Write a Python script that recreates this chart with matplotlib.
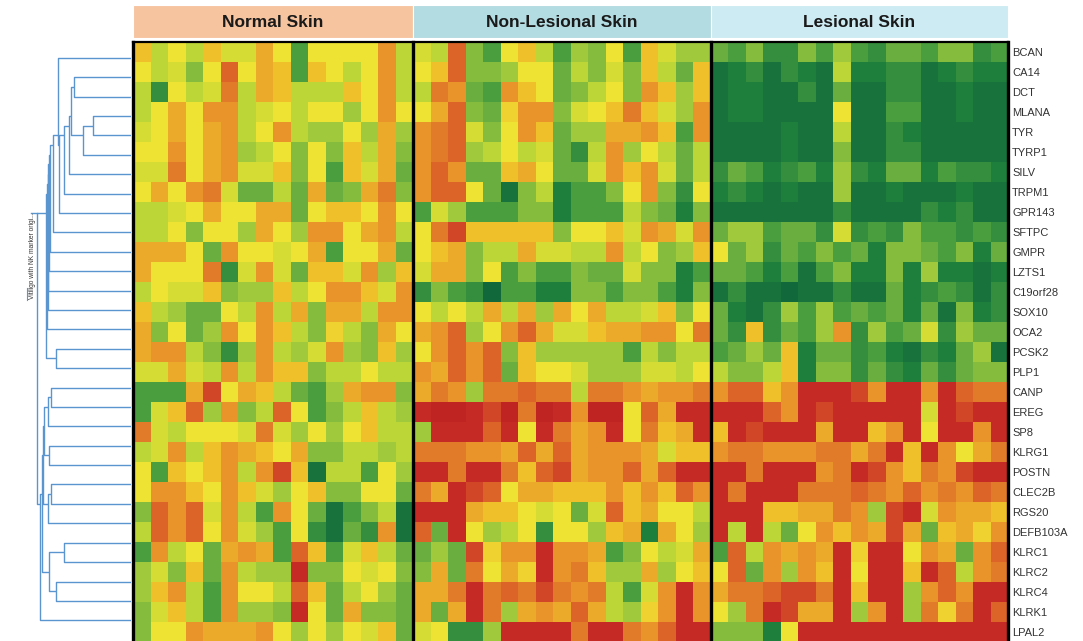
import numpy as np
import matplotlib.pyplot as plt
from matplotlib.colors import LinearSegmentedColormap
from matplotlib.patches import Rectangle

genes = ['BCAN', 'CA14', 'DCT', 'MLANA', 'TYR', 'TYRP1', 'SILV', 'TRPM1', 'GPR143',
         'SFTPC', 'GMPR', 'LZTS1', 'C19orf28', 'SOX10', 'OCA2', 'PCSK2', 'PLP1', 'CANP',
         'EREG', 'SP8', 'KLRG1', 'POSTN', 'CLEC2B', 'RGS20', 'DEFB103A', 'KLRC1', 'KLRC2',
         'KLRC4', 'KLRK1', 'LPAL2']

groups = ['Normal Skin', 'Non-Lesional Skin', 'Lesional Skin']
group_colors = ['#f7c4a0', '#b3dce2', '#cdebf3']

# expression levels, 0 = dark green ... 10 = deep red
normal = [
    [6, 4, 5, 4, 6, 4.5, 4.5, 6.5, 5, 2, 5, 5, 5, 5, 7, 4],
    [5, 4, 4.5, 3, 5, 8, 5, 6.5, 6, 2, 6, 5, 4, 5, 7, 4],
    [4, 1.5, 5, 4, 4.5, 7.5, 4, 6.5, 6, 4, 4, 4, 6, 5, 7, 4],
    [4, 5, 6.5, 5, 7, 7, 4, 4.5, 5, 4, 5, 5, 3.5, 5, 7, 5],
    [4.5, 5, 6.5, 5, 6.5, 7, 4, 5, 7, 4, 3.5, 3.5, 5, 3.5, 6.5, 3.5],
    [5, 5, 7, 5, 6.5, 7, 3.5, 4, 5, 3, 5, 3, 6, 4, 6.5, 3],
    [4.5, 4.5, 7.5, 5, 6.5, 7, 4.5, 4.5, 6, 3, 5, 2, 6, 4.5, 6.5, 2.5],
    [5, 6.5, 5, 7, 7.5, 4.5, 2.5, 2.5, 4, 2.5, 6.5, 2.5, 3, 6.5, 7.5, 3],
    [4, 4, 4.5, 5, 6.5, 5, 5, 6.5, 6.5, 2.5, 5, 6, 6, 5, 7, 5],
    [4, 4, 5, 3, 5, 5, 3.5, 6.5, 5, 3.5, 7, 7, 5, 6.5, 7, 4],
    [6.5, 6.5, 6.5, 5, 2.5, 7, 5, 5, 4.5, 5, 6.5, 2, 5, 5, 6.5, 2.5],
    [6.5, 5, 5, 5, 7.5, 1.5, 4.5, 7, 4.5, 2.5, 6, 6, 4.5, 7, 3.5, 6],
    [4, 5, 4.5, 4.5, 6, 3, 3.5, 3.5, 6, 4, 5, 7, 7, 6, 4.5, 7],
    [6, 4, 3.5, 2.5, 2.5, 5, 4, 7, 4, 6.5, 3, 6.5, 6.5, 4, 7, 7],
    [6.5, 3, 5, 2.5, 3.5, 7, 5, 7, 6, 4, 3, 5.5, 4, 3, 6.5, 5],
    [6.5, 7, 7, 4, 3, 1.5, 3.5, 7, 4, 3.5, 4.5, 7, 3.5, 3, 6, 3.5],
    [4.5, 4.5, 6.5, 4.5, 4, 7, 4, 7, 6, 6, 3, 4, 4, 5, 4, 4],
    [2, 2, 2, 6.5, 8.5, 5, 6.5, 6, 4, 2.5, 2, 3.5, 6.5, 7, 7, 3],
    [2, 4.5, 6, 8, 3.5, 7, 3, 4, 8, 5, 2, 3, 4, 6, 4, 3.5],
    [7.5, 4.5, 4, 5, 5, 5, 4.5, 7.5, 4.5, 3.5, 5, 3.5, 5, 6, 4, 4],
    [4, 4.5, 7, 4, 6, 7, 6.5, 6, 5, 6.5, 3, 3, 4, 4, 3.5, 4],
    [5, 2, 6, 5, 6, 7, 4, 7, 8.5, 6, 0.5, 4, 4, 2, 5, 3.5],
    [5, 7, 7, 6, 5, 7, 6, 4.5, 3.5, 5, 6, 3, 3, 5, 5, 2.5],
    [3, 8, 7, 8, 4.5, 7, 4, 2, 7, 5, 2.5, 0.5, 2, 3, 4, 0.5],
    [4, 8, 7, 8, 5, 7, 4.5, 3.5, 2, 5, 1.5, 0.5, 2.5, 1.5, 7, 0.5],
    [2, 7, 4, 5, 2.5, 6.5, 7, 6.5, 2, 8, 6, 2, 4.5, 6, 4, 2.5],
    [3.5, 4.5, 3, 6, 2.5, 7, 4, 3.5, 3.5, 9, 3, 3, 5, 4.5, 5, 3],
    [3.5, 6, 7, 4, 2, 7, 5, 5, 4, 8, 6, 2.5, 4, 5, 3.5, 2.5],
    [3, 4.5, 6, 4, 2, 7, 3.5, 3.5, 3, 9, 5, 2.5, 6.5, 3, 3, 2.5],
    [3, 5, 5, 7, 6.5, 6.5, 6.5, 7, 5, 3.5, 5, 3.5, 5, 4.5, 6, 2.5],
]

nonlesional = [
    [4.5, 4, 8, 3, 2, 5, 6, 4, 2, 3.5, 3, 5, 2, 6, 4.5, 3.5, 3.5],
    [5, 6, 8, 3, 3, 3.5, 5, 5, 2.5, 4, 3, 4.5, 3, 6, 4, 2.5, 6],
    [4, 7.5, 7, 2.5, 2, 7, 6, 5, 2.5, 3, 4, 5, 3, 7, 6, 3.5, 6],
    [5, 6.5, 8, 3, 2.5, 5.5, 7, 7, 3, 4.5, 5, 6, 7.5, 6, 4.5, 3.5, 7],
    [7, 7.5, 8, 4.5, 3, 5, 7, 6, 2.5, 3.5, 3.5, 6.5, 6.5, 7, 6, 2, 7],
    [7, 7.5, 8, 3.5, 4, 5, 4, 4.5, 2.5, 1.5, 4, 7, 3.5, 5, 4, 2.5, 4],
    [7, 8, 7, 2.5, 2.5, 6, 6.5, 5, 2.5, 2.5, 4.5, 7, 6, 7, 4.5, 2.5, 4],
    [7, 8, 8, 5, 2.5, 0.5, 3, 4, 1, 2, 2, 3, 5, 7, 3, 1.5, 5],
    [2, 4.5, 3.5, 2, 2, 2, 3, 3, 1, 2, 2, 2, 4, 3, 2.5, 1, 3],
    [5, 7.5, 8.5, 6, 6, 6, 6, 6, 3, 5, 5, 6, 4.5, 7, 6.5, 4.5, 7],
    [5, 6, 6.5, 3, 4, 4, 6.5, 4.5, 4.5, 4, 4, 7, 4, 5, 3, 3.5, 6],
    [4.5, 6.5, 6.5, 3, 5, 2, 3, 2, 2, 3, 2.5, 2.5, 4.5, 3, 3, 1, 2],
    [1.5, 3, 2, 1.5, 0, 2, 2, 1, 1, 3, 3, 2, 3, 3, 2, 1, 3],
    [5, 4, 5, 4, 6.5, 4, 6.5, 3.5, 6.5, 5, 6.5, 4, 4, 4.5, 6, 3, 5],
    [6.5, 7, 8, 3.5, 5, 7, 8, 6.5, 4.5, 4.5, 6, 6.5, 6.5, 7, 7, 5, 7.5],
    [5, 7, 8, 7, 8, 3, 6, 3.5, 3.5, 3.5, 3.5, 3.5, 2, 4, 3, 4, 4],
    [7, 6.5, 8, 7, 8, 2.5, 6, 5, 5, 4.5, 3.5, 3.5, 3.5, 4.5, 4.5, 4, 5],
    [6.5, 7.5, 7, 3.5, 7.5, 7.5, 8, 7.5, 7.5, 4, 7.5, 7.5, 7, 6.5, 7, 7, 7.5],
    [9, 9.5, 9.5, 9, 8.5, 9.5, 7.5, 9.5, 9, 7, 9.5, 9.5, 5, 8, 6.5, 9, 9],
    [3.5, 9, 9, 9, 8, 9, 5, 9, 7.5, 6.5, 7, 9, 5, 7.5, 6, 6.5, 9],
    [7.5, 7.5, 7.5, 7, 7, 6.5, 8, 6.5, 8, 6.5, 7, 7, 7, 6.5, 4.5, 6, 6],
    [9, 9, 7.5, 9, 9, 7.5, 6, 8, 8.5, 6.5, 7, 7, 8, 6.5, 8, 9, 9],
    [7.5, 6.5, 9, 8.5, 8, 5, 6.5, 6.5, 6, 6, 6, 7, 6, 7, 6, 8, 7],
    [9, 9, 9, 6.5, 6, 6, 5, 4.5, 5, 2.5, 4.5, 8, 6, 6.5, 5, 5, 4],
    [8, 2.5, 9, 5, 3.5, 4, 5, 1.5, 5, 5, 3.5, 6, 6.5, 1, 6.5, 5, 3.5],
    [2.5, 3.5, 2.5, 8.5, 5.5, 7, 7, 9, 7, 7, 6.5, 2, 3, 5, 4, 4.5, 6.5],
    [3, 6.5, 2.5, 7.5, 5, 6.5, 5.5, 9, 7, 7.5, 6, 3.5, 3.5, 6.5, 3.5, 5, 6],
    [6.5, 6.5, 7.5, 9, 7.5, 8, 7.5, 8.5, 7.5, 7, 7.5, 4, 2, 4.5, 7, 9, 7],
    [6.5, 2.5, 6.5, 9, 7.5, 3.5, 6.5, 7, 6.5, 8, 6.5, 4, 3.5, 5.5, 7, 9, 7],
    [4.5, 5, 1.5, 1.5, 3.5, 9, 9, 9, 9, 7.5, 9, 9, 7.5, 7, 8, 9, 9],
]

lesional = [
    [2.5, 2, 3, 1.5, 1.5, 3, 2, 3.5, 2, 1.5, 2.5, 2.5, 2, 3, 3, 1.5, 2],
    [0.5, 1, 1.5, 0.5, 1.5, 1, 0.5, 4, 1, 1, 1.5, 1.5, 0.5, 1, 1.5, 1, 1],
    [0.5, 1, 1, 0.5, 0.5, 1.5, 0.5, 2.5, 0.5, 0.5, 1.5, 1.5, 0.5, 0.5, 1, 0.5, 0.5],
    [0.5, 1, 1, 0.5, 0.5, 0.5, 0.5, 5, 0.5, 0.5, 2, 2, 0.5, 0.5, 1, 0.5, 0.5],
    [0.5, 0.5, 0.5, 0.5, 1, 0.5, 0.5, 4, 0.5, 0.5, 1.5, 1, 0.5, 0.5, 0.5, 0.5, 0.5],
    [0.5, 0.5, 0.5, 0.5, 1, 0.5, 0.5, 3, 0.5, 0.5, 1.5, 1.5, 0.5, 0.5, 0.5, 0.5, 0.5],
    [1.5, 2.5, 2, 1, 1.5, 2, 1, 3.5, 1.5, 1, 2.5, 2.5, 1, 2, 1.5, 1.5, 1],
    [1, 1.5, 1, 0.5, 1, 0.5, 0.5, 3.5, 0.5, 0.5, 1, 0.5, 0.5, 0.5, 1, 0.5, 0.5],
    [0.5, 0.5, 0.5, 0.5, 0.5, 0.5, 0.5, 1.5, 0.5, 0.5, 0.5, 0.5, 1.5, 1, 1.5, 0.5, 0.5],
    [2.5, 3.5, 3.5, 2, 2.5, 2.5, 1.5, 4.5, 1.5, 2, 1.5, 3, 2, 2, 1.5, 2, 1.5],
    [5, 2.5, 3.5, 1.5, 2.5, 2, 3, 2, 2.5, 1, 3, 3, 2.5, 2, 3, 1, 2.5],
    [2.5, 2.5, 2, 1, 2, 0.5, 2, 3, 1, 1, 3, 1, 3.5, 1, 1, 0.5, 1],
    [0.5, 1.5, 0.5, 0.5, 0, 0.5, 0.5, 1.5, 0.5, 0.5, 2.5, 1, 1.5, 2, 1.5, 0.5, 1.5],
    [2.5, 1, 0.5, 1.5, 3.5, 2, 3.5, 2, 2.5, 2, 2.5, 1, 2.5, 0.5, 3, 1, 1.5],
    [2.5, 1.5, 6, 1.5, 2.5, 2, 3.5, 7, 1.5, 3.5, 2, 2.5, 4.5, 1.5, 3.5, 2.5, 2.5],
    [2, 2.5, 3.5, 2.5, 6, 1, 2.5, 2.5, 1.5, 2, 1, 0.5, 1.5, 1, 2.5, 3.5, 0.5],
    [4, 3, 3, 4, 6, 1, 3, 3, 1.5, 2.5, 1.5, 1, 2.5, 1.5, 2.5, 3, 3],
    [7, 8, 8, 6, 7, 9, 9, 9, 8.5, 7, 9, 9, 7, 9, 8, 7.5, 7.5],
    [9, 9, 9, 8, 7, 9, 8.5, 9, 9, 9, 9, 9, 4.5, 9, 8.5, 9, 9],
    [6, 9, 8.5, 9, 9, 9, 6.5, 9, 9, 6, 7, 9, 5, 9, 9, 7, 9],
    [7, 7.5, 7.5, 7, 7, 7, 7.5, 7.5, 6.5, 7.5, 9, 6, 9, 7, 5, 6.5, 7.5],
    [9, 9, 7.5, 9, 9, 9, 7, 7.5, 9, 8.5, 7, 6, 7.5, 7, 8.5, 9, 9],
    [9, 7.5, 9, 9, 9, 7.5, 7.5, 7.5, 8, 7.5, 7, 8, 7, 7.5, 7, 8, 7.5],
    [9, 9, 9, 6, 6, 6.5, 6.5, 7.5, 7, 3.5, 8.5, 9, 4.5, 7, 6.5, 6.5, 6],
    [9, 4, 9, 4, 2.5, 5, 7, 6, 7, 6.5, 8.5, 6.5, 2.5, 6, 6.5, 5.5, 7],
    [2, 8, 4, 7, 6.5, 7, 6.5, 9, 5.5, 9, 9, 5, 7, 6.5, 2.5, 7, 8],
    [5, 8, 2.5, 7, 3.5, 7, 6, 9, 5, 9, 9, 6, 9, 8, 4, 7, 7.5],
    [6.5, 7.5, 7.5, 8, 8.5, 8.5, 7.5, 9, 6, 9, 9, 3.5, 7, 8, 7, 9, 9],
    [5, 3.5, 7.5, 9, 8.5, 6.5, 6.5, 9, 3.5, 7, 9, 3.5, 7.5, 5.5, 7.5, 9, 8],
    [3, 3, 3, 1, 5, 9, 9, 9, 9, 9, 9, 9, 9, 9, 9, 9, 9],
]

# row dendrogram as merges (child a, child b, height); leaves are 0..29
merges = [
    (1, 2, 57), (3, 4, 38), (31, 5, 48), (30, 32, 60), (33, 6, 62),
    (34, 7, 67), (35, 8, 72), (0, 36, 73), (37, 9, 78), (38, 10, 81),
    (39, 11, 82), (40, 12, 83), (41, 13, 83.5), (42, 14, 84), (15, 16, 75),
    (43, 44, 85),
    (17, 18, 80), (46, 19, 83), (20, 21, 82), (47, 48, 87), (22, 23, 80),
    (50, 24, 83), (49, 51, 88), (25, 26, 67), (27, 28, 75), (53, 54, 82),
    (52, 55, 89), (56, 29, 91),
    (45, 57, 94),
]

colors = ['#11683a', '#1e7f3c', '#4a9e3e', '#86bd3e', '#bcd638', '#eee433',
          '#f0c02a', '#e8952a', '#dc6428', '#c62a24', '#b81c20']
cmap = LinearSegmentedColormap.from_list('gr', colors)

W, H = 1083, 641
fig = plt.figure(figsize=(W / 100, H / 100), dpi=100)


def box(x0, y0, x1, y1):
    return [x0 / W, 1 - y1 / H, (x1 - x0) / W, (y1 - y0) / H]


# heatmap
data = np.hstack([np.array(normal), np.array(nonlesional), np.array(lesional)])
nrow, ncol = data.shape
ax = fig.add_axes(box(133, 42, 1008, 642))
ax.pcolormesh(np.arange(ncol + 1), np.arange(nrow + 1), data, cmap=cmap,
              vmin=0, vmax=10)
ax.set_xlim(0, ncol)
ax.set_ylim(nrow, 0)
for s in ax.spines.values():
    s.set_visible(False)
sizes = [len(normal[0]), len(nonlesional[0]), len(lesional[0])]
edges = np.concatenate([[0], np.cumsum(sizes)])
for x in edges:
    ax.axvline(x, color='black', lw=2.4, clip_on=False)
ax.axhline(0, color='black', lw=1.6, clip_on=False)
ax.set_xticks([])
ax.yaxis.tick_right()
ax.set_yticks(np.arange(nrow) + 0.5)
ax.set_yticklabels(genes, fontsize=8, family='Liberation Sans', color='#333333')
ax.tick_params(length=0, pad=3)

# group header boxes
hx = fig.add_axes(box(133, 5, 1008, 38))
hx.set_xlim(0, ncol)
hx.set_ylim(0, 1)
hx.axis('off')
for i, name in enumerate(groups):
    hx.add_patch(Rectangle((edges[i], 0), sizes[i], 1, facecolor=group_colors[i],
                           edgecolor='white', lw=0.8))
    hx.text(edges[i] + sizes[i] / 2, 0.48, name, ha='center', va='center',
            fontsize=12.5, fontweight='bold', family='Liberation Sans', color='#1a1a1a')

# dendrogram (node drawn at the leaf-count weighted centre)
dx = fig.add_axes(box(0, 48, 131, 630))
dx.set_xlim(131, 0)
dx.set_ylim(nrow, 0)
dx.axis('off')
ypos = {i: i + 0.5 for i in range(nrow)}
hpos = {i: 0 for i in range(nrow)}
count = {i: 1 for i in range(nrow)}
for k, (a, b, h) in enumerate(merges):
    dx.plot([hpos[a], h, h, hpos[b]], [ypos[a], ypos[a], ypos[b], ypos[b]],
            color='#5b95cf', lw=1.0, solid_capstyle='butt')
    n = count[a] + count[b]
    ypos[nrow + k] = (ypos[a] * count[a] + ypos[b] * count[b]) / n
    hpos[nrow + k] = h
    count[nrow + k] = n
top = merges[-1][0]
dx.plot([merges[-1][2], merges[-1][2] + 6], [ypos[top], ypos[top]],
        color='#5b95cf', lw=1.0)

fig.text(33 / W, 1 - 256 / H, 'Vitiligo with NK marker origi...', rotation=90,
         ha='center', va='center', fontsize=4.8, family='Liberation Sans', color='#333333')
fig.add_artist(plt.Line2D([27 / W, 27 / W], [1 - 288 / H, 1 - 300 / H],
                          color='#5b95cf', lw=0.8))

fig.savefig('out.png', dpi=100)
